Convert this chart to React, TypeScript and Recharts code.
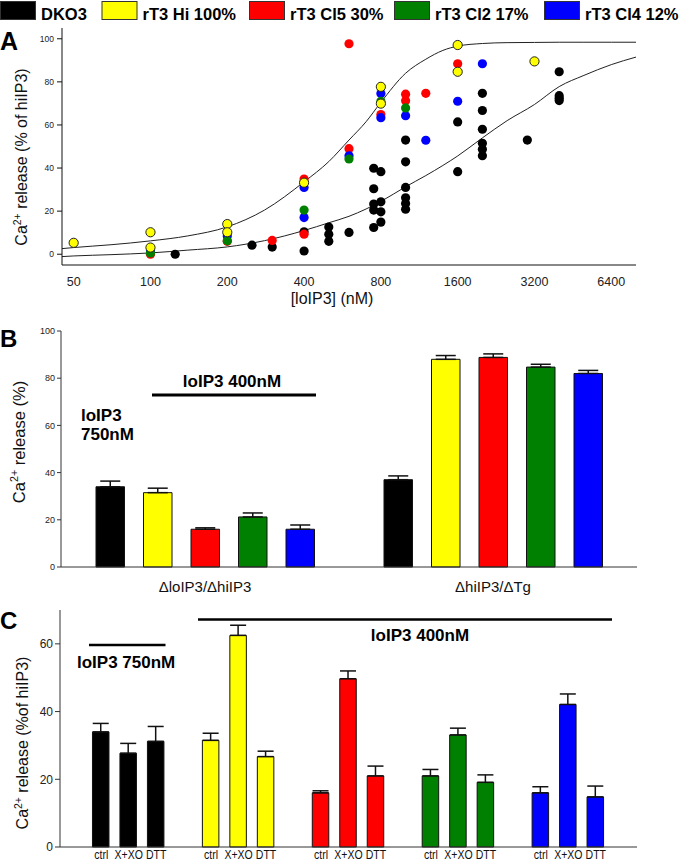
import React from "react";
import {
  ComposedChart,
  Scatter,
  Line,
  XAxis,
  YAxis,
  BarChart,
  Bar,
  ErrorBar,
  Cell,
} from "recharts";

// ---- panel A: dose response ([loIP3] nM, % of hiIP3) ----
const xTicksA = [50, 100, 200, 400, 800, 1600, 3200, 6400];
const yTicksA = [0, 20, 40, 60, 80, 100];

const dko3Pts = [
  [125, 0], [250, 4.2], [300, 3.3], [400, 10.4], [400, 1.5], [500, 12.6], [500, 9.3], [500, 6.0],
  [600, 10.1], [750, 39.9], [750, 30.4], [750, 23.3], [750, 20.5], [750, 12.4], [800, 38.3],
  [800, 24.3], [800, 19.7], [800, 14.9], [1000, 53], [1000, 42.9], [1000, 31.0], [1000, 26.2],
  [1000, 23.6], [1000, 20.9], [1600, 61.4], [1600, 38.3], [2000, 74.7], [2000, 66.7], [2000, 58.0],
  [2000, 51.5], [2000, 48.7], [2000, 45.7], [3000, 53], [4000, 84.7], [4000, 73.6], [4000, 72.4],
  [4000, 71.3],
];
const hiPts = [
  [50, 5.3], [100, 10.2], [100, 3.1], [200, 14], [200, 10.2], [400, 33.2], [800, 77.7], [800, 69.9],
  [1600, 97.1], [1600, 84.7], [3200, 89.5],
];
const cl5Pts = [
  [100, 0], [200, 6], [300, 6.4], [400, 34.9], [400, 9.3], [600, 97.7], [600, 49], [800, 64.8],
  [1000, 74.3], [1000, 71.2], [1200, 74.7], [1600, 88.4],
];
const cl2Pts = [[100, 0.6], [200, 6.2], [400, 20.5], [600, 44.2], [800, 71], [1000, 67.9]];
const cl4Pts = [
  [100, 1.5], [200, 8.5], [400, 31], [400, 17], [600, 45.7], [800, 74.6], [800, 63.4], [1000, 64.3],
  [1200, 52.9], [1600, 71], [2000, 88.4],
];

// fitted curves
const fitConc = [45, 50, 70, 100, 140, 200, 280, 400, 500, 600, 700, 800, 1000, 1200, 1400, 1600, 2000, 2500, 3200, 4000, 5000, 6400, 8000];
const fitHi = [2.6, 3.1, 4.4, 6.2, 8.5, 12.7, 20.5, 33.6, 43, 53, 61.5, 70.5, 84, 90.5, 94.6, 96.6, 97.8, 98.2, 98.3, 98.4, 98.4, 98.4, 98.4];
const fitDko3 = [-1.1, -0.8, -0.2, 0.6, 1.9, 3.4, 6.3, 11, 14.6, 17.6, 21, 24.5, 31.3, 36.5, 41.2, 45.6, 54, 62, 69.5, 77.8, 83, 88, 91.5];

// ---- panel B ----
const catsB = ["ΔloIP3/ΔhiIP3", "ΔhiIP3/ΔTg"];
const dko3B = [34, 37];
const dko3BErr = [2.4, 1.6];
const hiB = [31.5, 88];
const hiBErr = [1.9, 1.6];
const cl5B = [16, 88.8];
const cl5BErr = [0.6, 1.5];
const cl2B = [21.2, 84.7];
const cl2BErr = [1.7, 1.2];
const cl4B = [16, 82];
const cl4BErr = [1.8, 1.3];

// ---- panel C ----
const condC = ["ctrl", "X+XO", "DTT"];
const dko3C = [34, 27.7, 31.2];
const dko3CErr = [2.5, 2.9, 4.4];
const hiC = [31.5, 62.5, 26.7];
const hiCErr = [2.1, 3.0, 1.6];
const cl5C = [16, 49.7, 21];
const cl5CErr = [0.6, 2.3, 2.9];
const cl2C = [21, 33.1, 19.1];
const cl2CErr = [1.9, 2.0, 2.2];
const cl4C = [16, 42.1, 14.8];
const cl4CErr = [1.8, 3.1, 3.2];

const legendNames = ["DKO3", "rT3 Hi 100%", "rT3 Cl5 30%", "rT3 Cl2 17%", "rT3 Cl4 12%"];
const colors = ["#000000", "#ffff00", "#ff0000", "#008000", "#0000ff"];

const toXY = (pts: number[][]) => pts.map(([x, y]) => ({ x, y }));

const dot = (fill: string, outline: boolean) => (p: any) =>
  p.cx == null ? <g /> : (
    <circle cx={p.cx} cy={p.cy} r={4.6} fill={fill} stroke={outline ? "#222" : "none"} strokeWidth={1} />
  );

// condensed tick label, like the narrow face of the original figure
const NarrowTick = (p: any) => (
  <g transform={`translate(${p.x},${p.y})`}>
    <text transform="scale(0.78,1)" textAnchor="middle" dy="0.71em" fontSize={13.5} fill="#111">
      {p.payload.value}
    </text>
  </g>
);

function PanelA() {
  const fitRows = fitConc.map((x, i) => ({ x, hi: fitHi[i], dko3: fitDko3[i] }));
  return (
    <ComposedChart width={683} height={310} margin={{ top: 28, right: 47, bottom: 15, left: 22 }}>
      <XAxis
        dataKey="x"
        type="number"
        scale="log"
        domain={[45, 8000]}
        allowDataOverflow
        ticks={xTicksA}
        tickLine={false}
        tickSize={0}
        tickMargin={12}
        height={30}
        stroke="#111"
        tick={{ fontSize: 12.5, fill: "#222" }}
      />
      <YAxis
        dataKey="y"
        type="number"
        domain={[-5, 105]}
        allowDataOverflow
        ticks={yTicksA}
        width={40}
        tickSize={5}
        tickMargin={3}
        stroke="#111"
        tick={{ fontSize: 8.5, fill: "#222" }}
      />
      <XAxis xAxisId="top" orientation="top" type="number" scale="log" domain={[45, 8000]} allowDataOverflow height={0} tick={false} tickLine={false} stroke="#777" />
      <YAxis yAxisId="right" orientation="right" type="number" domain={[0, 1]} width={0} tick={false} tickLine={false} stroke="#777" />
      <Line data={fitRows} dataKey="hi" type="monotone" stroke="#222" strokeWidth={1} dot={false} isAnimationActive={false} />
      <Line data={fitRows} dataKey="dko3" type="monotone" stroke="#222" strokeWidth={1} dot={false} isAnimationActive={false} />
      <Scatter data={toXY(dko3Pts)} dataKey="y" shape={dot(colors[0], false)} isAnimationActive={false} />
      <Scatter data={toXY(cl5Pts)} dataKey="y" shape={dot(colors[2], false)} isAnimationActive={false} />
      <Scatter data={toXY(cl4Pts)} dataKey="y" shape={dot(colors[4], false)} isAnimationActive={false} />
      <Scatter data={toXY(cl2Pts)} dataKey="y" shape={dot(colors[3], false)} isAnimationActive={false} />
      <Scatter data={toXY(hiPts)} dataKey="y" shape={dot(colors[1], true)} isAnimationActive={false} />
    </ComposedChart>
  );
}

function PanelB() {
  const rows = catsB.map((cat, i) => ({
    cat,
    dko3: dko3B[i], dko3Err: [0, dko3BErr[i]],
    hi: hiB[i], hiErr: [0, hiBErr[i]],
    cl5: cl5B[i], cl5Err: [0, cl5BErr[i]],
    cl2: cl2B[i], cl2Err: [0, cl2BErr[i]],
    cl4: cl4B[i], cl4Err: [0, cl4BErr[i]],
  }));
  const keys = ["dko3", "hi", "cl5", "cl2", "cl4"];
  return (
    <BarChart width={683} height={290} data={rows} margin={{ top: 21, right: 46, bottom: 0, left: 21 }} barSize={28.5} barGap={19}>
      <XAxis dataKey="cat" tickLine={false} tickSize={0} tickMargin={14} height={33} stroke="#333" tick={{ fontSize: 15, fill: "#111" }} />
      <YAxis type="number" domain={[0, 100]} ticks={[0, 20, 40, 60, 80, 100]} width={40} tickSize={4} tickMargin={2} stroke="#333" tick={{ fontSize: 9, fill: "#222" }} />
      <XAxis xAxisId="top" dataKey="cat" orientation="top" height={0} tick={false} tickLine={false} stroke="#555" />
      <YAxis yAxisId="right" orientation="right" type="number" domain={[0, 1]} width={0} tick={false} tickLine={false} stroke="#555" />
      {keys.map((k, i) => (
        <Bar key={k} dataKey={k} fill={colors[i]} stroke="#111" strokeWidth={1} isAnimationActive={false}>
          <ErrorBar dataKey={k + "Err"} direction="y" width={10} stroke="#111" strokeWidth={1.5} />
        </Bar>
      ))}
    </BarChart>
  );
}

function PanelC() {
  const groups = [
    [dko3C, dko3CErr],
    [hiC, hiCErr],
    [cl5C, cl5CErr],
    [cl2C, cl2CErr],
    [cl4C, cl4CErr],
  ];
  const rows: any[] = [{ label: "", v: null, g: 0 }];
  groups.forEach(([vals, errs], g) => {
    condC.forEach((label, j) => rows.push({ label, v: vals[j], err: [0, errs[j]], g }));
    rows.push({ label: "", v: null, g });
  });
  return (
    <BarChart width={683} height={262} data={rows} margin={{ top: 10, right: 46, bottom: 0, left: 20 }} barSize={16.5}>
      <XAxis dataKey="label" interval={0} tickLine={false} tickSize={0} tickMargin={2} height={15} stroke="#333" tick={NarrowTick} />
      <YAxis type="number" domain={[0, 70]} ticks={[0, 20, 40, 60]} width={40} tickSize={5} tickMargin={2} stroke="#333" tick={{ fontSize: 12, fill: "#222" }} />
      <XAxis xAxisId="top" dataKey="label" orientation="top" height={0} tick={false} tickLine={false} stroke="#555" />
      <YAxis yAxisId="right" orientation="right" type="number" domain={[0, 1]} width={0} tick={false} tickLine={false} stroke="#555" />
      <Bar dataKey="v" stroke="#111" strokeWidth={1} isAnimationActive={false}>
        {rows.map((r, i) => (
          <Cell key={i} fill={colors[r.g]} />
        ))}
        <ErrorBar dataKey="err" direction="y" width={8} stroke="#111" strokeWidth={1.5} />
      </Bar>
    </BarChart>
  );
}

const boldText = { fontWeight: 700, fill: "#000" } as const;

function Overlay() {
  const swatchX = [0, 101.5, 249, 394, 544];
  const titleY = (x: number, y: number, label: string, size: number) => (
    <text transform={`translate(${x},${y}) rotate(-90)`} textAnchor="middle" fontSize={size} fill="#111">
      Ca<tspan fontSize={size * 0.65} dy={-size * 0.4}>2+</tspan>
      <tspan dy={size * 0.4}>{label}</tspan>
    </text>
  );
  return (
    <svg width={683} height={862} style={{ position: "absolute", left: 0, top: 0, pointerEvents: "none" }}>
      {legendNames.map((n, i) => (
        <g key={n}>
          <rect x={swatchX[i] + 0.5} y={1.5} width={35} height={18} fill={colors[i]} stroke="#333" strokeWidth={1} />
          <text x={swatchX[i] + 41} y={19.5} fontSize={16.5} {...boldText}>{n}</text>
        </g>
      ))}
      <text x={0} y={50} fontSize={25} {...boldText}>A</text>
      <text x={0} y={347} fontSize={24} {...boldText}>B</text>
      <text x={0} y={629} fontSize={24} {...boldText}>C</text>

      {titleY(27, 157, " release (% of hiIP3)", 16)}
      {titleY(25, 442, " release (%)", 16.5)}
      {titleY(28, 743, " release (%of hiIP3)", 16)}
      <text x={332} y={304} textAnchor="middle" fontSize={16} fill="#111">[loIP3] (nM)</text>

      <text x={232} y={387} textAnchor="middle" fontSize={17} {...boldText}>loIP3 400nM</text>
      <line x1={152} x2={316} y1={395} y2={395} stroke="#000" strokeWidth={2.8} />
      <text x={81} y={421} fontSize={17} {...boldText}>loIP3</text>
      <text x={81} y={440} fontSize={17} {...boldText}>750nM</text>

      <line x1={89} x2={165.5} y1={645} y2={645} stroke="#000" strokeWidth={2.5} />
      <text x={77} y={668} fontSize={17} {...boldText}>loIP3 750nM</text>
      <line x1={198} x2={612} y1={619.5} y2={619.5} stroke="#000" strokeWidth={2.5} />
      <text x={420} y={641} textAnchor="middle" fontSize={17} {...boldText}>loIP3 400nM</text>
    </svg>
  );
}

export default function App() {
  return (
    <div
      style={{
        position: "absolute",
        left: 0,
        top: 0,
        width: 683,
        height: 862,
        background: "#fff",
        fontFamily: "'Liberation Sans', Arial, sans-serif",
        overflow: "hidden",
      }}
    >
      <div style={{ position: "absolute", left: 0, top: 0 }}>
        <PanelA />
      </div>
      <div style={{ position: "absolute", left: 0, top: 310 }}>
        <PanelB />
      </div>
      <div style={{ position: "absolute", left: 0, top: 600 }}>
        <PanelC />
      </div>
      <Overlay />
    </div>
  );
}
